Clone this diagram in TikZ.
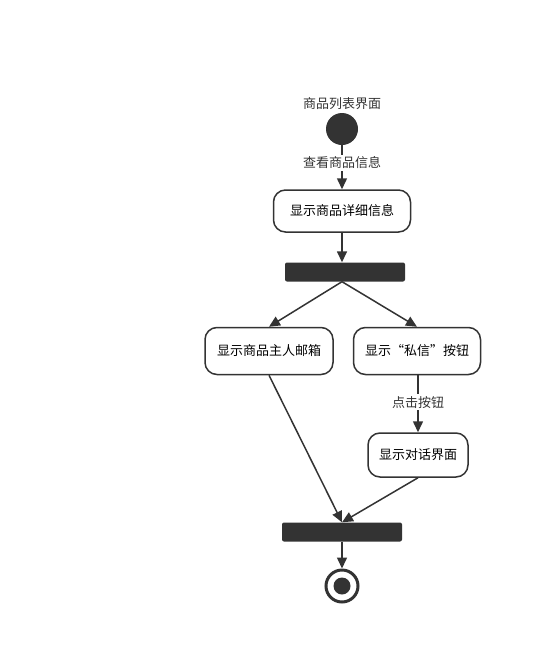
\documentclass[tikz,border=0pt]{standalone}
\usepackage{fontspec}
\setmainfont{Noto Sans CJK SC}
\usetikzlibrary{arrows.meta, positioning}
\definecolor{darkgrey}{HTML}{333333}

\tikzset{
  activity/.style={rectangle, rounded corners=12pt, draw=darkgrey, line width=1.5pt, fill=white, minimum height=42pt, inner xsep=8pt, font=\fontsize{13}{15}\selectfont},
  syncbar/.style={rectangle, rounded corners=2pt, fill=darkgrey, minimum width=120pt, minimum height=19pt, inner sep=0pt},
  flow/.style={draw=darkgrey, line width=1.5pt, -{Triangle[length=11pt,width=10pt]}},
  flowlabel/.style={fill=white, inner sep=2pt, text=darkgrey, font=\fontsize{13}{15}\selectfont}
}

\begin{document}
\begin{tikzpicture}[x=1pt, y=-1pt]
\useasboundingbox (0,0) rectangle (543,664);
% Start and end
\node[circle, fill=darkgrey, minimum size=32pt, inner sep=0pt] (start) at (342,129) {};
\node[font=\fontsize{13}{15}\selectfont, text=darkgrey] (startlabel) at (342,104) {商品列表界面};

% Activities
\node[activity, minimum width=137pt] (detail) at (342,211) {显示商品详细信息};
\node[syncbar] (fork) at (345,272) {};
\node[activity, minimum width=128pt, minimum height=47pt] (email) at (269,351) {显示商品主人邮箱};
\node[activity, minimum width=127pt, minimum height=47pt] (button) at (417,351) {显示“私信”按钮};
\node[activity, minimum width=100pt, minimum height=44pt] (dialog) at (418,455) {显示对话界面};
\node[syncbar] (join) at (342,532) {};
\node[circle, draw=darkgrey, line width=3pt, fill=white, minimum size=32pt, inner sep=0pt] (stop) at (342,586) {};
\node[circle, fill=darkgrey, minimum size=17pt, inner sep=0pt] (stopdot) at (stop) {};

% Arrows
\draw[flow] (start) -- node[flowlabel, pos=0.4] {查看商品信息} (detail);
\draw[flow] (detail) -- (detail|-fork.north);
\draw[flow] (fork.south-|detail) -- (email.north);
\draw[flow] (fork.south-|detail) -- (button.north);
\draw[flow] (button.south-|dialog) -- node[flowlabel, pos=0.47] {点击按钮} (dialog);
\draw[flow] (email.south) -- (join.north);
\draw[flow] (dialog.south) -- (join.north);
\draw[flow] (join) -- (stop);
\end{tikzpicture}
\end{document}
